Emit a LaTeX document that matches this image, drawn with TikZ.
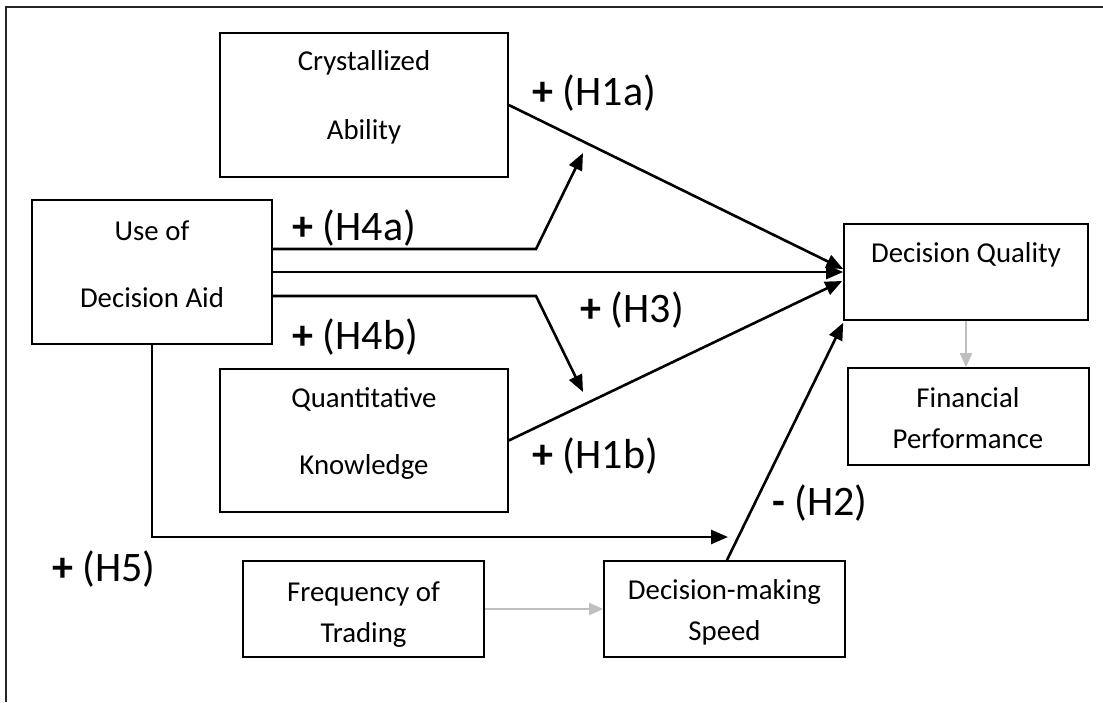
\documentclass[tikz,border=0pt]{standalone}
\usepackage{fontspec}
\setmainfont{Carlito}
\usetikzlibrary{arrows.meta}
\definecolor{lightg}{RGB}{191,191,191}
\begin{document}
\begin{tikzpicture}[x=0.5pt,y=-0.5pt,
  box/.style={draw=black, line width=0.8pt, inner sep=0pt, fill=white},
  txt/.style={font=\fontsize{14.4}{17}\selectfont, inner sep=0pt, anchor=base},
  lbl/.style={font=\fontsize{21}{25}\selectfont, inner sep=0pt, anchor=base west},
  conn/.style={draw=black, line width=1.3pt, -{Triangle[length=8.5pt,width=7pt]}},
  gconn/.style={draw=lightg, line width=1.1pt, -{Triangle[length=7pt,width=6pt]}},
  frame/.style={draw=black!85, line width=1pt}]
\useasboundingbox (0,0) rectangle (1103,702);
% outer frame (only top and left edges visible)
\draw[frame] (6,702) -- (6,7) -- (1103,7);

% boxes
\node[box, minimum width=144pt, minimum height=72pt]   (ca)  at (364,105)   {};
\node[box, minimum width=120pt, minimum height=72pt]   (use) at (152,272)   {};
\node[box, minimum width=144pt, minimum height=71.5pt] (qk)  at (364,440.5) {};
\node[box, minimum width=122pt, minimum height=48pt]   (dq)  at (966,272)   {};
\node[box, minimum width=120.5pt, minimum height=48.5pt] (fp) at (968.5,416.5) {};
\node[box, minimum width=120.5pt, minimum height=48pt] (ft)  at (363.5,609) {};
\node[box, minimum width=120.5pt, minimum height=48pt] (ds)  at (724.5,609) {};

% box texts
\node[txt] (ca1) at (364,70)  {Crystallized};
\node[txt] (ca2) at (364,139) {Ability};
\node[txt] (use1) at (152,240) {Use of};
\node[txt] (use2) at (152,307) {Decision Aid};
\node[txt] (qk1) at (364,407) {Quantitative};
\node[txt] (qk2) at (364,474) {Knowledge};
\node[txt] (dq1) at (966,262) {Decision Quality};
\node[txt] (fp1) at (968,407) {Financial};
\node[txt] (fp2) at (968,448) {Performance};
\node[txt] (ft1) at (363.5,601) {Frequency of};
\node[txt] (ft2) at (363.5,642) {Trading};
\node[txt] (ds1) at (724.5,599) {Decision-making};
\node[txt] (ds2) at (724.5,640) {Speed};

% helper coordinates
\coordinate (h4a-bend) at (536,249);
\coordinate (h4a-tip)  at (583,153);
\coordinate (h4b-bend) at (536,296);
\coordinate (h4b-tip)  at (583,392);
\coordinate (h5-bend)  at (152,537);
\coordinate (h5-tip)   at (728,537);

% connectors
\draw[conn] (ca.east) -- ([yshift=1.5pt]dq.west);
\draw[conn] ([yshift=11.5pt]use.east) -- (h4a-bend) -- (h4a-tip);
\draw[conn] (use.east) -- (dq.west);
\draw[conn] ([yshift=-12pt]use.east) -- (h4b-bend) -- (h4b-tip);
\draw[conn] (qk.east) -- ([yshift=-4.5pt,xshift=-0.5pt]dq.west);
\draw[conn] (use.south) -- (h5-bend) -- (h5-tip);
\draw[conn] ([xshift=1.2pt]ds.north) -- ([yshift=-1pt]dq.south west);
\draw[gconn] (ft.east) -- (ds.west);
\draw[gconn] (dq.south) -- (dq.south |- fp.north);

% labels
\node[lbl] (l1a) at (532,105) {\textbf{+} (H1a)};
\node[lbl] (l4a) at (292,240) {\textbf{+} (H4a)};
\node[lbl] (l3)  at (580,322) {\textbf{+} (H3)};
\node[lbl] (l4b) at (292,349) {\textbf{+} (H4b)};
\node[lbl] (l1b) at (532,468) {\textbf{+} (H1b)};
\node[lbl] (l2)  at (772,515) {\textbf{-} (H2)};
\node[lbl] (l5)  at (52,581)  {\textbf{+} (H5)};
\end{tikzpicture}
\end{document}
